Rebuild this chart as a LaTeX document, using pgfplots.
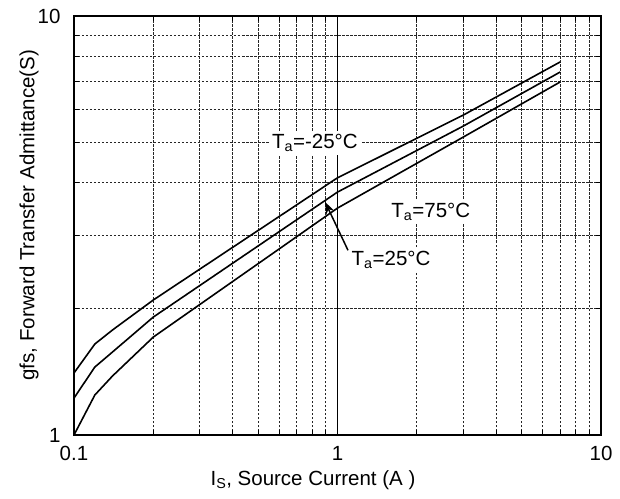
\documentclass[border=0pt]{standalone}
\usepackage{pgfplots}
\pgfplotsset{compat=1.18}
\usetikzlibrary{arrows.meta}
\usepackage{fontspec}
\setmainfont{Liberation Sans}

\begin{document}
\begin{tikzpicture}[font=\fontsize{20.5}{24}\selectfont]
\begin{axis}[
    scale only axis,
    width=527pt, height=419pt,
    xmode=log, ymode=log,
    xmin=0.1, xmax=10, ymin=1, ymax=10,
    xtick={0.1,1,10}, xticklabels={0.1,1,10},
    ytick={1,10}, yticklabels={1,10},
    minor xtick={0.2,0.3,0.4,0.5,0.6,0.7,0.8,0.9,2,3,4,5,6,7,8,9},
    minor ytick={2,3,4,5,6,7,8,9},
    grid=both,
    major grid style={black, line width=0.8pt},
    minor grid style={black!85, line width=0.8pt, dash pattern=on 2.5pt off 1.5pt},
    axis line style={line width=1.6pt},
    tick style={black, line width=0.8pt},
    major tick length=6pt, minor tick length=5pt,
    tick align=inside,
    xticklabel style={yshift=-8pt},
    yticklabel style={xshift=-10pt},
    xlabel={I\textsubscript{S}, Source Current (A )},
    ylabel={gfs, Forward Transfer Admittance(S)},
    xlabel style={at={(axis description cs:0.4535,-0.107)}, anchor=center},
    ylabel style={at={(axis description cs:-0.0854,0.525)}, anchor=center},
    clip=false,
]
% Ta = -25 C
\addplot[black, line width=1.6pt] coordinates {
    (0.1,1.406) (0.12,1.649) (0.14,1.781) (0.2,2.10) (1,4.11) (3,5.8) (7,7.77)
};
% Ta = 25 C
\addplot[black, line width=1.6pt] coordinates {
    (0.1,1.225) (0.12,1.453) (0.14,1.578) (0.2,1.912) (1,3.80) (3,5.46) (7,7.35)
};
% Ta = 75 C
\addplot[black, line width=1.6pt] coordinates {
    (0.1,1.0) (0.12,1.246) (0.14,1.383) (0.2,1.713) (1,3.48) (3,5.14) (7,6.96)
};

\node[fill=white, inner sep=3pt] at (axis cs:0.821,4.98) {T\textsubscript{a}=-25°C};
\node[fill=white, inner sep=3pt] at (axis cs:2.26,3.41) {T\textsubscript{a}=75°C};
\node[fill=white, inner sep=3pt] at (axis cs:1.597,2.62) {T\textsubscript{a}=25°C};
\draw[line width=1.5pt, -{Stealth[length=12pt,width=9pt]}]
    (axis cs:1.096,2.76) -- (axis cs:0.897,3.60);
\end{axis}
\pgfresetboundingbox
\path ([xshift=-74pt,yshift=-63pt]current axis.south west)
    rectangle ([xshift=19pt,yshift=16pt]current axis.north east);
\end{tikzpicture}
\end{document}
